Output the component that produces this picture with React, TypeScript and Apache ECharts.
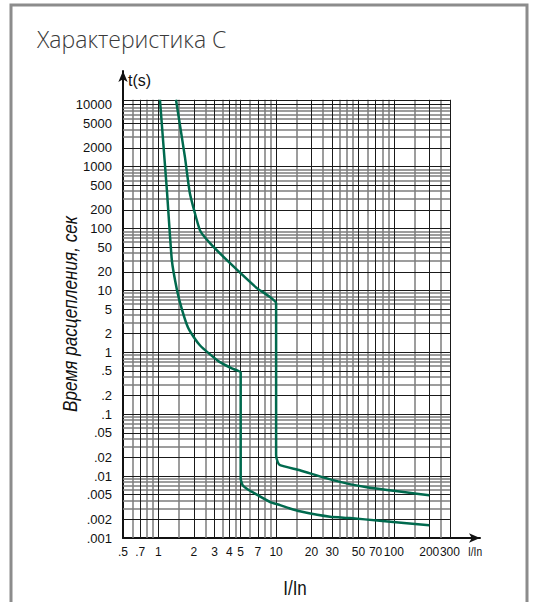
import React, { useEffect, useRef } from "react";
import * as echarts from "echarts";

// Axis label values
const xLabelValues = [0.5, 0.7, 1, 2, 3, 4, 5, 7, 10, 20, 30, 50, 70, 100, 200, 300];
const yLabelValues = [
  0.001, 0.002, 0.005, 0.01, 0.02, 0.05, 0.1, 0.2, 0.5, 1, 2, 5, 10, 20, 50, 100, 200, 500, 1000, 2000, 5000, 10000,
];

// Grid line values
const xGridBlack = [0.7, 1, 2, 3, 4, 5, 7, 10, 20, 30, 50, 70, 100, 200, 300];
const xGridGray = [0.6, 0.8, 0.9, 1.5, 2.5, 3.5, 4.5, 6, 8, 9, 15, 25, 35, 40, 45, 60, 80, 90, 150, 250];
const yGridBlack = [
  0.002, 0.005, 0.01, 0.02, 0.05, 0.1, 0.2, 0.5, 1, 2, 5, 10, 20, 50, 100, 200, 500, 1000, 2000, 5000, 10000, 12000,
];
const yDecades = [0.001, 0.01, 0.1, 1, 10, 100, 1000];
const yMinorMultipliers = [3, 4, 6, 7, 8, 9];

// Tripping curves: current multiple I/In and time t (s)
const lowerI = [1.03, 1.18, 1.3, 1.44, 1.59, 1.78, 2.0, 2.25, 2.7, 3.3, 4.2, 5.0, 5.0, 5.2, 5.6, 6.0, 8.9, 10.8, 13.1, 15.9, 28.7, 42.5, 76, 200];
const lowerT = [12000, 416, 30.7, 10, 4.8, 2.54, 1.75, 1.3, 0.95, 0.7, 0.55, 0.47, 0.009, 0.0071, 0.0063, 0.0058, 0.0038, 0.0034, 0.003, 0.0027, 0.0022, 0.0021, 0.0019, 0.0016];
const upperI = [1.41, 1.68, 1.85, 2.25, 2.74, 4.06, 6.86, 10, 10, 10.3, 10.8, 15.9, 30.4, 59, 200];
const upperT = [12000, 1420, 372, 94, 58, 27.5, 10.9, 6.2, 0.022, 0.017, 0.015, 0.0124, 0.0086, 0.0066, 0.0049];

const FONT = "'Liberation Sans', Arial, sans-serif";
const CURVE = "#006a4e";

function fmt(v: number): string {
  const r = +(+v).toPrecision(6);
  return r < 1 ? String(r).replace(/^0/, "") : String(r);
}

export default function App() {
  const ref = useRef<HTMLDivElement>(null);
  useEffect(() => {
    if (!ref.current) return;
    const chart = echarts.init(ref.current, undefined, { renderer: "svg" });

    const yGridGray: number[] = [];
    yDecades.forEach((d) => yMinorMultipliers.forEach((m) => yGridGray.push(+(d * m).toPrecision(6))));

    const vLine = (x: number) => [{ coord: [x, 0.001] }, { coord: [x, 12000] }];
    const hLine = (y: number) => [{ coord: [0.5, y] }, { coord: [300, y] }];

    const gridSeries = (name: string, color: string, width: number, xs: number[], ys: number[]) => ({
      name,
      type: "line",
      data: [],
      silent: true,
      z: 1,
      markLine: {
        silent: true,
        symbol: ["none", "none"],
        label: { show: false },
        animation: false,
        lineStyle: { color, width, type: "solid" },
        emphasis: { disabled: true },
        data: [...xs.map(vLine), ...ys.map(hLine)],
      },
    });

    const option: any = {
      animation: false,
      grid: { left: 123, right: 55, top: 71, bottom: 64, containLabel: false },
      xAxis: {
        type: "log",
        logBase: 10,
        min: 0.5,
        max: 540,
        axisLine: {
          show: true,
          onZero: false,
          lineStyle: { color: "#111", width: 2 },
          symbol: ["none", "arrow"],
          symbolSize: [7, 11],
        },
        axisTick: { show: false },
        splitLine: { show: false },
        minorTick: { show: false },
        minorSplitLine: { show: false },
        axisLabel: {
          customValues: xLabelValues,
          formatter: fmt,
          fontSize: 12,
          color: "#111",
          margin: 8,
          fontFamily: FONT,
          showMaxLabel: true,
          showMinLabel: true,
          hideOverlap: false,
        },
      },
      yAxis: {
        type: "log",
        logBase: 10,
        min: 0.001,
        max: 35000,
        axisLine: {
          show: true,
          onZero: false,
          lineStyle: { color: "#111", width: 2 },
          symbol: ["none", "arrow"],
          symbolSize: [7, 11],
        },
        axisTick: { show: false },
        splitLine: { show: false },
        minorTick: { show: false },
        minorSplitLine: { show: false },
        axisLabel: {
          customValues: yLabelValues,
          formatter: fmt,
          fontSize: 13,
          color: "#111",
          margin: 11,
          fontFamily: FONT,
        },
        name: "t(s)",
        nameLocation: "end",
        nameGap: -9,
        nameTextStyle: {
          fontSize: 16,
          color: "#111",
          fontFamily: FONT,
          align: "left",
          verticalAlign: "middle",
          padding: [0, 0, 0, 5],
        },
      },
      series: [
        gridSeries("gridGray", "#7c7c7c", 1.5, xGridGray, yGridGray),
        gridSeries("gridBlack", "#1a1a1a", 1, xGridBlack, yGridBlack),
        {
          name: "lower",
          type: "line",
          z: 5,
          symbol: "none",
          smooth: 0.15,
          lineStyle: { color: CURVE, width: 2.5 },
          data: lowerI.map((x, i) => [x, lowerT[i]]),
        },
        {
          name: "upper",
          type: "line",
          z: 5,
          symbol: "none",
          smooth: 0.15,
          lineStyle: { color: CURVE, width: 2.5 },
          data: upperI.map((x, i) => [x, upperT[i]]),
        },
      ],
      graphic: [
        {
          type: "rect",
          shape: { x: 11, y: 5, width: 516, height: 620 },
          style: { fill: "none", stroke: "#8c8c8c", lineWidth: 3 },
          silent: true,
        },
        {
          type: "text",
          x: 37,
          y: 27,
          style: {
            text: "Характеристика С",
            fontSize: 23,
            fontFamily: "'Open Sans', sans-serif",
            fontWeight: 300,
            fill: "#3a3a3a",
            align: "left",
            verticalAlign: "top",
            textAlign: "left",
            textVerticalAlign: "top",
          },
        },
        {
          type: "text",
          x: 70,
          y: 314,
          rotation: Math.PI / 2,
          scaleX: 0.86,
          style: {
            text: "Время расцепления, сек",
            fontSize: 20,
            fontStyle: "italic",
            fontFamily: FONT,
            fill: "#111",
            align: "center",
            verticalAlign: "middle",
            textAlign: "center",
            textVerticalAlign: "middle",
          },
        },
        {
          type: "text",
          x: 475,
          y: 552,
          scaleX: 0.85,
          style: {
            text: "I/In",
            fontSize: 12,
            fontFamily: FONT,
            fill: "#111",
            align: "center",
            verticalAlign: "middle",
            textAlign: "center",
            textVerticalAlign: "middle",
          },
        },
        {
          type: "text",
          x: 295,
          y: 588,
          scaleX: 0.85,
          style: {
            text: "I/In",
            fontSize: 20,
            fontFamily: FONT,
            fill: "#111",
            align: "center",
            verticalAlign: "middle",
            textAlign: "center",
            textVerticalAlign: "middle",
          },
        },
      ],
    };

    chart.setOption(option);
    return () => chart.dispose();
  }, []);

  return (
    <div
      ref={ref}
      style={{ position: "absolute", left: 0, top: 0, width: 535, height: 602, background: "#fff" }}
    />
  );
}
